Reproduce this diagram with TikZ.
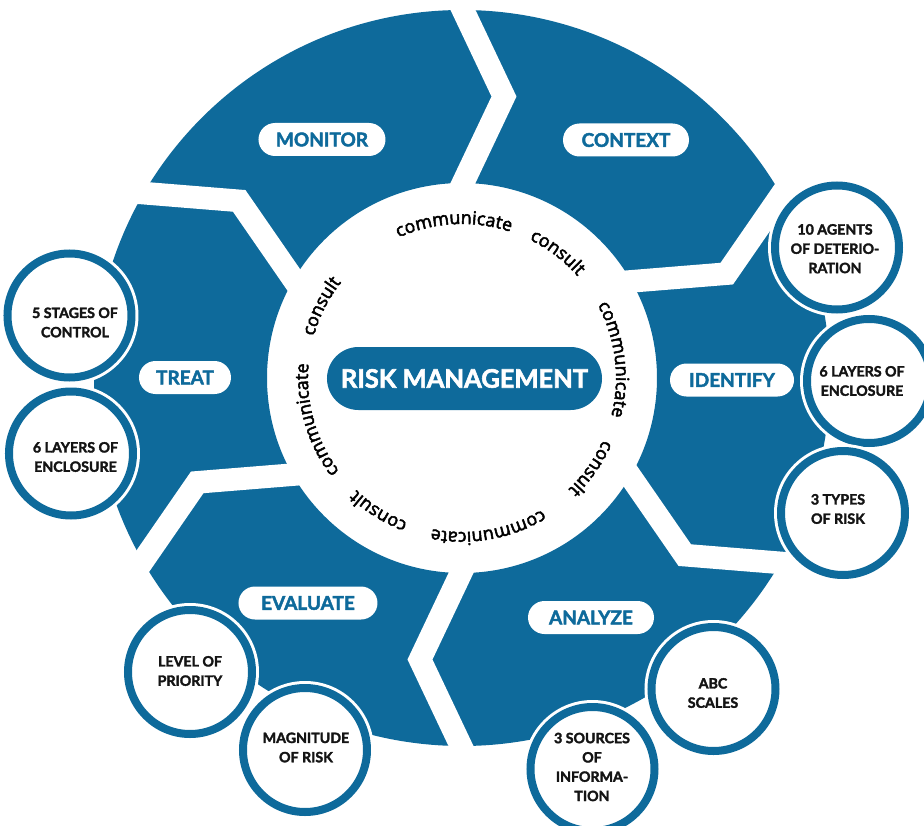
\documentclass[tikz,border=0pt]{standalone}
\usepackage{fontspec}
\setmainfont{Lato}[BoldFeatures={FakeBold=2.2}]
\newfontfamily\osans[FakeBold=2.8]{Open Sans}
\usetikzlibrary{decorations.text}
\definecolor{rmblue}{RGB}{14,106,155}
\newcommand\cfont{\osans\fontsize{18}{20}\selectfont}
\tikzset{
  lbl/.style={fill=white, rounded corners=16.5pt, minimum height=33pt, inner xsep=0pt,
    text=rmblue, font=\fontsize{19}{22}\selectfont\bfseries},
  bub/.style={circle, fill=white, draw=rmblue, line width=8pt, minimum size=124pt, inner sep=0pt,
    preaction={draw=white, line width=14pt}},
  btxt/.style={align=center, inner sep=0pt, text=black!92, font=\fontsize{14.2}{19.3}\selectfont\bfseries},
  ring/.style={decorate, decoration={text along path, text align=center, text={|\cfont|#1}}}
}
\begin{document}
\begin{tikzpicture}[x=1pt,y=1pt]
\useasboundingbox (-462,-447) rectangle (462,378);
% ring of segments
\fill[rmblue, even odd rule] (0,0) circle[radius=368] (0,0) circle[radius=195];
\foreach \a in {90,30,-30,-90,-150,150}{
  \fill[white, rotate=\a] (187,15.3) -- (281.5,-29.5) -- (376,15.3) -- (376,-9.7) -- (281.5,-54.5) -- (187,-9.7) -- cycle;
}
% words around the centre
\foreach \a/\w in {93/communicate, 52.7/consult, 7/communicate, -35/consult, -80/communicate, -122/consult, -164/communicate, 153/consult}{
  \path[ring=\w] (\a+60:154) arc[start angle=\a+60, end angle=\a-60, radius=154];
}
% centre
\node[fill=rmblue, rounded corners=31.5pt, minimum width=275pt, minimum height=63pt, inner sep=0pt,
  text=white, font=\fontsize{25.5}{30}\selectfont\bfseries] (rm) at (2.5,-0.5) {RISK MANAGEMENT};
% stage labels
\node[lbl, minimum width=127pt] (monitor) at (-140,238.5) {MONITOR};
\node[lbl, minimum width=126pt] (context) at (164,238) {CONTEXT};
\node[lbl, minimum width=124pt] (identify) at (270,-2) {IDENTIFY};
\node[lbl, minimum width=126pt] (analyze) at (129,-239.5) {ANALYZE};
\node[lbl, minimum width=139pt] (evaluate) at (-154,-225) {EVALUATE};
\node[lbl, minimum width=92pt] (treat) at (-277,0.5) {TREAT};
% bubbles
\node[bub] (c1) at (375,130.5) {};
\node[btxt] (t1) at (373,129.3) {10 AGENTS\\OF DETERIO-\\RATION};
\node[bub] (c2) at (407,-3) {};
\node[btxt] (t2) at (400,-3) {6 LAYERS OF\\ENCLOSURE};
\node[bub] (c3) at (381,-135) {};
\node[btxt] (t3) at (376,-131) {3 TYPES\\OF RISK};
\node[bub] (c4) at (130.5,-391) {};
\node[btxt] (t4) at (130,-389) {3 SOURCES\\OF\\INFORMA-\\TION};
\node[bub] (c5) at (251.5,-311) {};
\node[btxt] (t5) at (251,-315) {ABC\\SCALES};
\node[bub] (c6) at (-272,-294) {};
\node[btxt] (t6) at (-272,-293) {LEVEL OF\\PRIORITY};
\node[bub] (c7) at (-157,-372) {};
\node[btxt] (t7) at (-156,-369.5) {MAGNITUDE\\OF RISK};
\node[bub] (c8) at (-392.5,62.5) {};
\node[btxt] (t8) at (-387,55.5) {5 STAGES OF\\CONTROL};
\node[bub] (c9) at (-391,-75.5) {};
\node[btxt] (t9) at (-386.5,-79) {6 LAYERS OF\\ENCLOSURE};
\end{tikzpicture}
\end{document}
